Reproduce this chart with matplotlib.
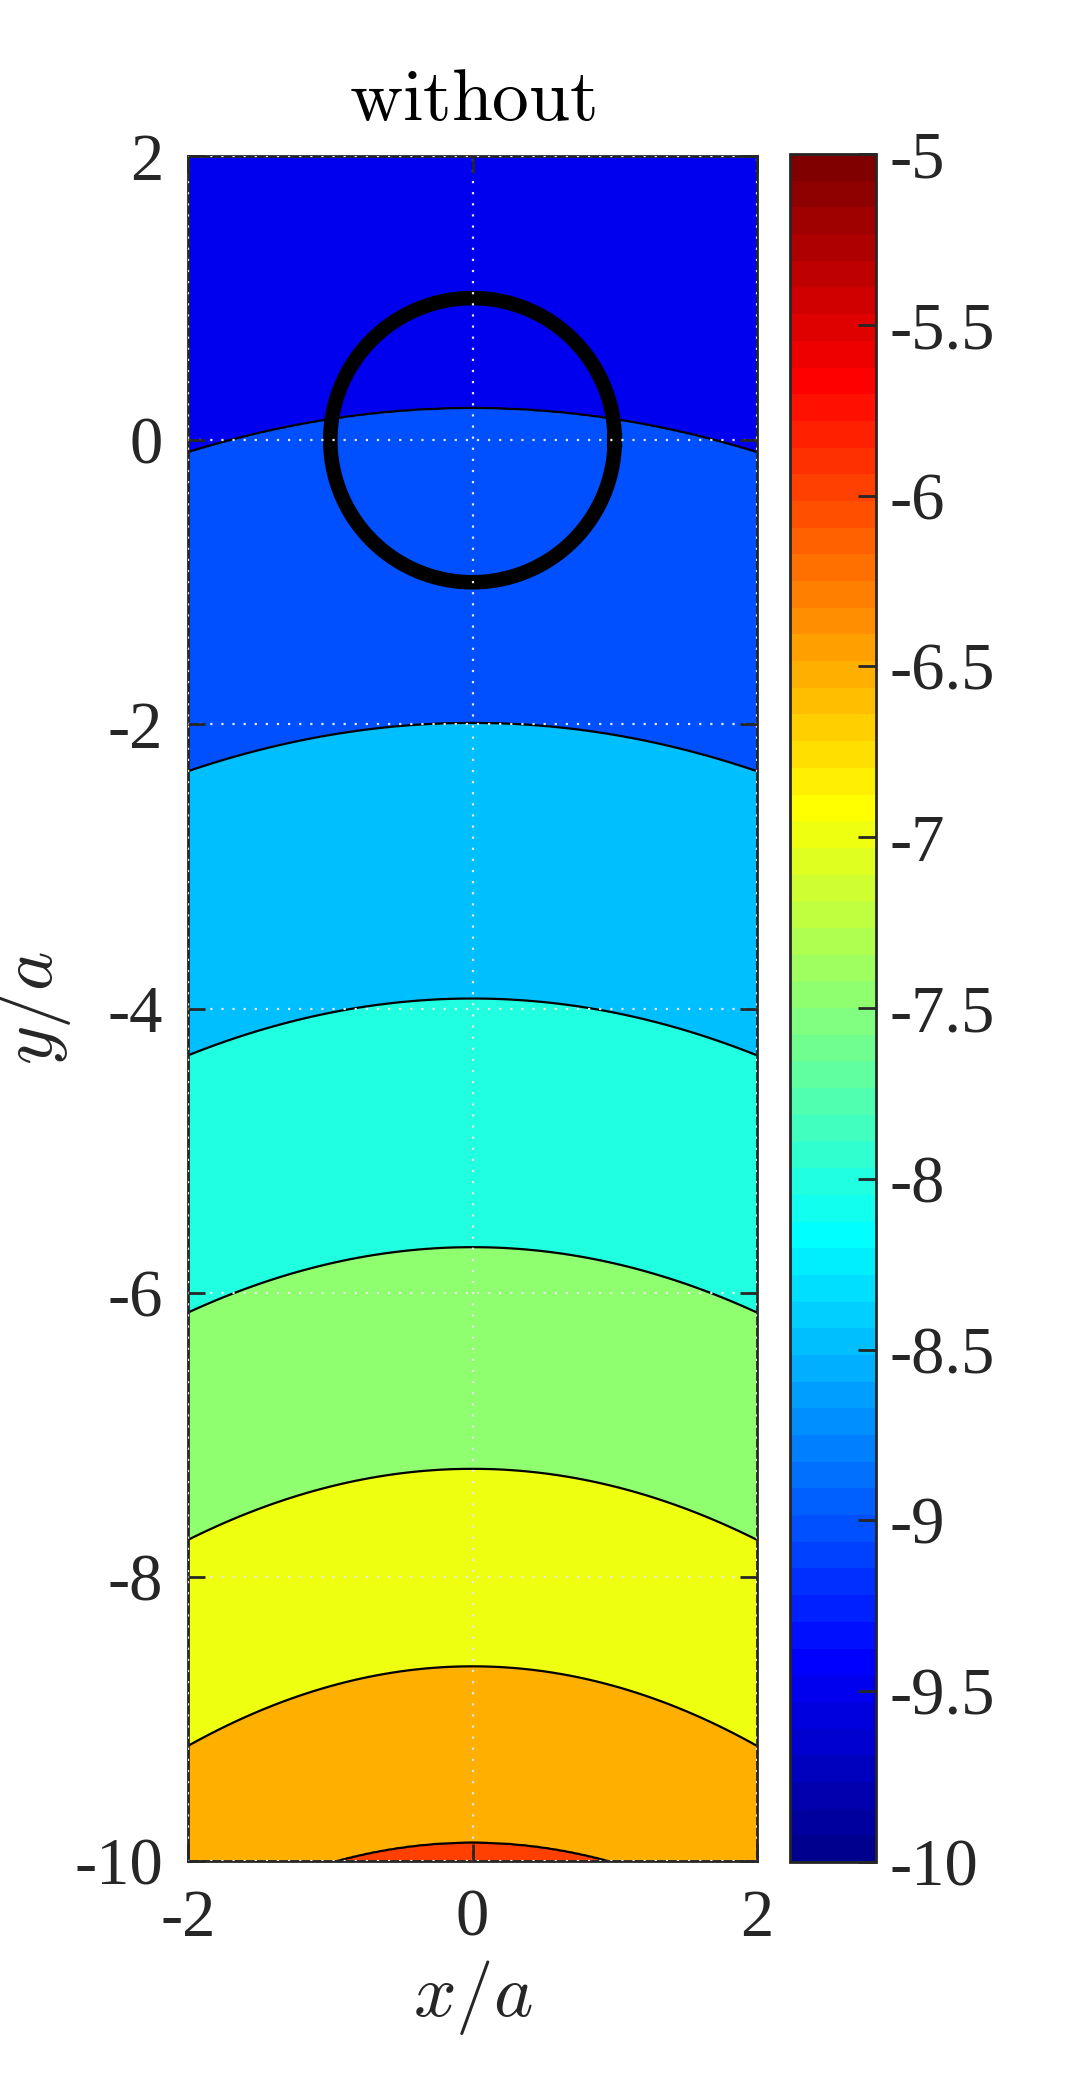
import numpy as np
import matplotlib as mpl
import matplotlib.pyplot as plt
from matplotlib.colors import ListedColormap, Normalize
from matplotlib.cm import ScalarMappable

# Contour levels and where each line sits
line_levels = [-9.0, -8.5, -8.0, -7.5, -7.0, -6.5, -6.0]
y_at_centre = [0.225, -1.99, -3.93, -5.68, -7.24, -8.63, -9.87]   # y/a of the line at x/a = 0
drop_at_edge = [0.31, 0.34, 0.40, 0.46, 0.50, 0.56, 0.57]          # how far the line bends down at x/a = +-2
fill_levels = [-9.5, -9.0, -8.5, -8.0, -7.5, -7.0, -6.5, -6.0, -5.5]
cbar_ticks = [-10, -9.5, -9, -8.5, -8, -7.5, -7, -6.5, -6, -5.5, -5]
x_ticks = [-2, 0, 2]
y_ticks = [-10, -8, -6, -4, -2, 0, 2]
c_min, c_max = -10, -5
circle_radius = 1.0


def matlab_jet(n=64):
    m = int(np.ceil(n / 4))
    u = np.concatenate([np.arange(1, m + 1) / m, np.ones(m - 1), np.arange(m, 0, -1) / m])
    g = int(np.ceil(m / 2)) - int(n % 4 == 1) + np.arange(1, len(u) + 1)
    r = g + m
    b = g - m
    g = g[g <= n]
    r = r[r <= n]
    b = b[b >= 1]
    J = np.zeros((n, 3))
    J[r - 1, 0] = u[:len(r)]
    J[g - 1, 1] = u[:len(g)]
    J[b - 1, 2] = u[len(u) - len(b):]
    return J


jet64 = matlab_jet(64)
cmap = ListedColormap(jet64)

# build the field column by column from the read contour positions
x = np.linspace(-2, 2, 401)
y = np.linspace(-10, 2, 1201)
Z = np.empty((y.size, x.size))
for j, xv in enumerate(x):
    yl = np.array(y_at_centre) - np.array(drop_at_edge) * (xv / 2) ** 2
    ys = np.concatenate(([4.0], yl, [-12.0]))
    vs = np.concatenate(([-9.4], line_levels, [-5.6]))
    Z[:, j] = np.interp(-y, -ys, vs)

# MATLAB colours a band with the colour of its lower level
band_colors = [jet64[min(int((L - c_min) / (c_max - c_min) * 64), 63)] for L in fill_levels[:-1]]

mpl.rcParams['axes.unicode_minus'] = False
mpl.rcParams['mathtext.fontset'] = 'cm'
mpl.rcParams['font.family'] = ['Liberation Serif', 'DejaVu Serif']

fig = plt.figure(figsize=(10.92, 20.92), dpi=100)
W, H = 1092, 2092
ax = fig.add_axes([188 / W, 1 - 1861 / H, (757 - 188) / W, (1861 - 156) / H])
cax = fig.add_axes([790 / W, 1 - 1862 / H, (876 - 790) / W, (1862 - 154) / H])

ax.contourf(x, y, Z, levels=fill_levels, colors=band_colors)
ax.contour(x, y, Z, levels=line_levels, colors='k', linewidths=1.6, linestyles='solid')

t = np.linspace(0, 2 * np.pi, 400)
ax.plot(circle_radius * np.cos(t), circle_radius * np.sin(t), color='k', lw=10.5, zorder=2.2)

ax.set_xlim(-2, 2)
ax.set_ylim(-10, 2)
ax.set_xticks(x_ticks)
ax.set_yticks(y_ticks)
ax.set_xticklabels([f'{v:g}' for v in x_ticks])
ax.set_yticklabels([f'{v:g}' for v in y_ticks])
ax.set_axisbelow(False)
ax.grid(True, color='#e8e8e8', linestyle=(0, (1, 4)), linewidth=1.6)
ax.tick_params(direction='in', length=12, width=2, colors='#262626', labelsize=48,
               top=True, right=True, labelcolor='#262626')
ax.tick_params(axis='y', pad=18)
ax.tick_params(axis='x', pad=20)
for s in ax.spines.values():
    s.set_linewidth(2)
    s.set_color('#262626')

ax.set_title(r'$\mathrm{without}$', fontsize=53, pad=26)
ax.set_xlabel(r'$x/a$', fontsize=54, color='#262626', labelpad=6)
ax.set_ylabel(r'$y/a$', fontsize=54, color='#262626', labelpad=1)

sm = ScalarMappable(norm=Normalize(c_min, c_max), cmap=cmap)
cb = fig.colorbar(sm, cax=cax)
cb.set_ticks(cbar_ticks)
cb.set_ticklabels([f'{v:g}' for v in cbar_ticks])
cax.tick_params(direction='in', length=13, width=2, colors='#262626', labelsize=48, pad=10)
cb.outline.set_linewidth(2)
cb.outline.set_edgecolor('#262626')

fig.savefig('out.png', dpi=100)
